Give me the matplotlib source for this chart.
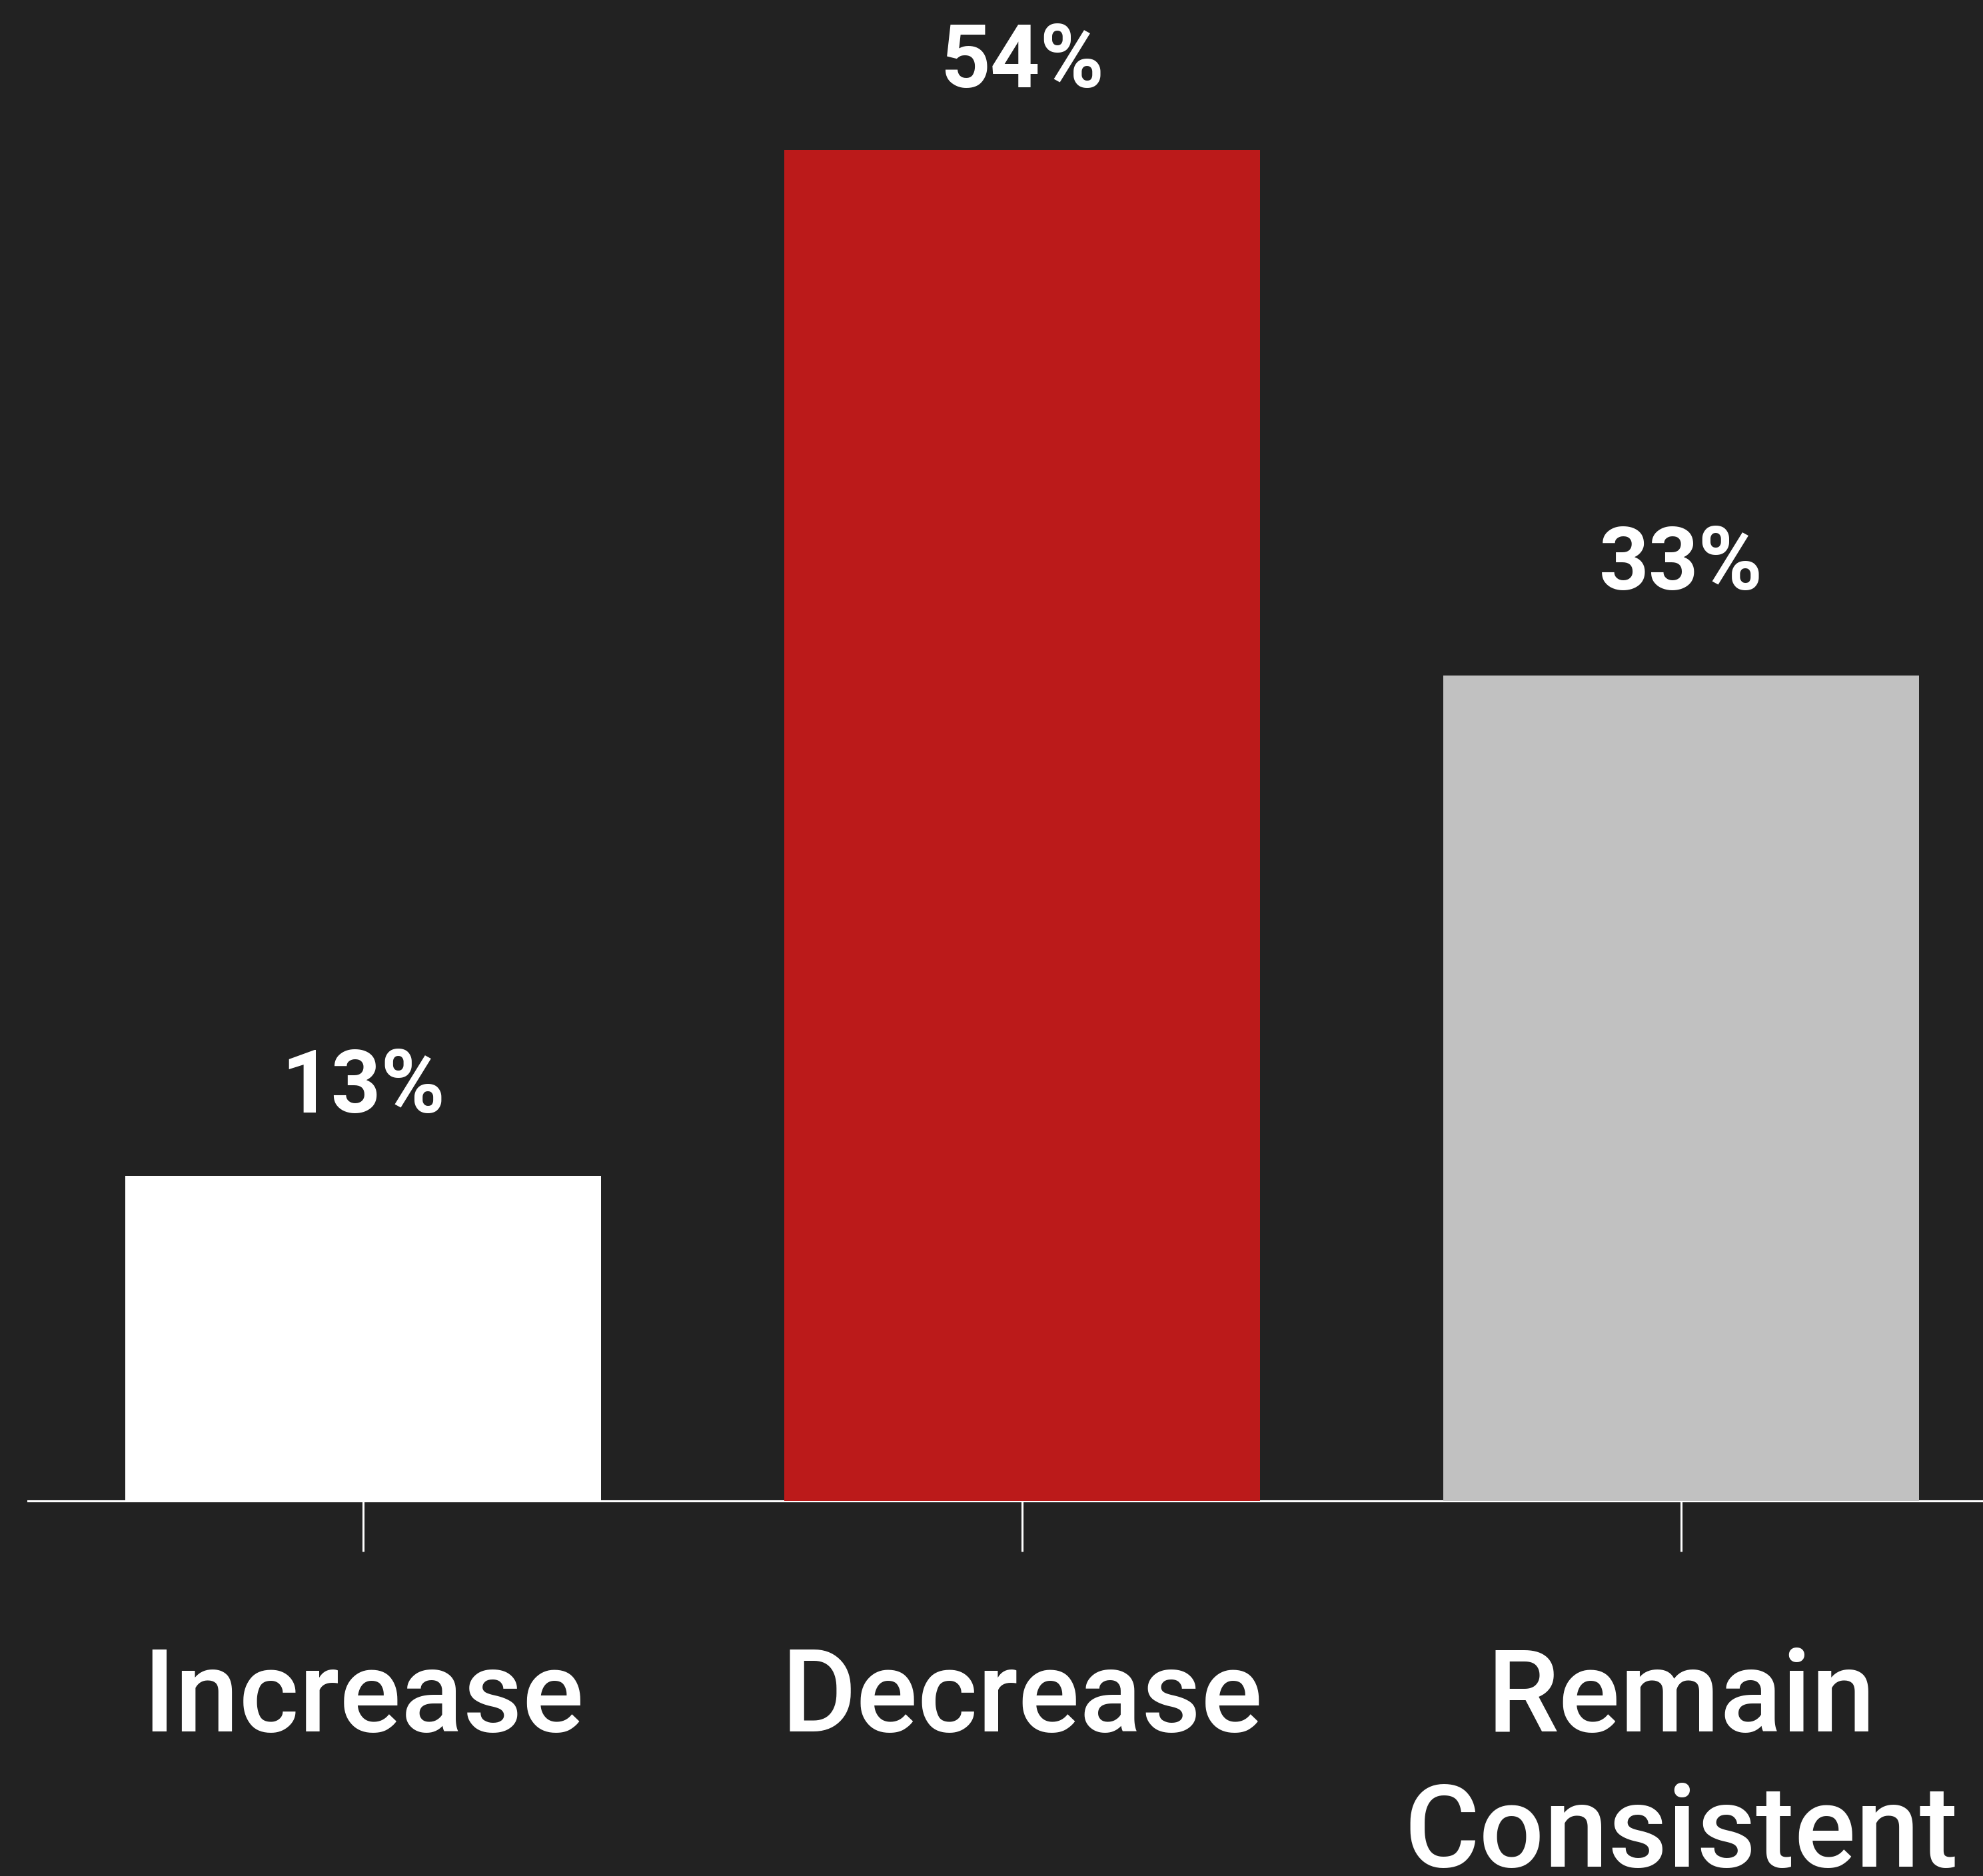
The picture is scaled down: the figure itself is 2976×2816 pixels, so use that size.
import matplotlib.pyplot as plt

categories = ["Increase", "Decrease", "Remain\nConsistent"]
values = [13, 54, 33]
value_labels = ["13%", "54%", "33%"]
colors = ["#FFFFFF", "#BB1A1A", "#C1C1C1"]

bg = "#222222"
plt.rcParams["font.family"] = ["Roboto", "DejaVu Sans"]

fig = plt.figure(figsize=(29.76, 28.16), dpi=100, facecolor=bg)
ax = fig.add_axes([42 / 2976, 0.2, 1 - 42 / 2976, 0.8])
ax.set_facecolor(bg)

x = range(len(categories))
ax.bar(x, values, width=0.722, color=colors, zorder=2)

# gap between bar top and its label (the last one sits a bit higher)
label_gap = [1.8, 1.8, 2.7]
for i, v in enumerate(values):
    ax.text(i, v + label_gap[i], value_labels[i], ha="center", va="bottom",
            fontsize=94, fontweight="bold", color="white")

ax.set_xlim(-0.509, 2.458)
ax.set_ylim(0, 60)

for s in ["top", "right", "left"]:
    ax.spines[s].set_visible(False)
ax.spines["bottom"].set_color("white")
ax.spines["bottom"].set_linewidth(2.2)
ax.spines["bottom"].set_zorder(1)

ax.set_yticks([])
ax.set_xticks(list(x))
ax.set_xticklabels(categories, fontsize=124, color="white", linespacing=1.29,
                   fontweight="medium")
ax.tick_params(axis="x", colors="white", length=55, width=2.2, pad=101)

fig.savefig("out.png", dpi=100, facecolor=bg)
